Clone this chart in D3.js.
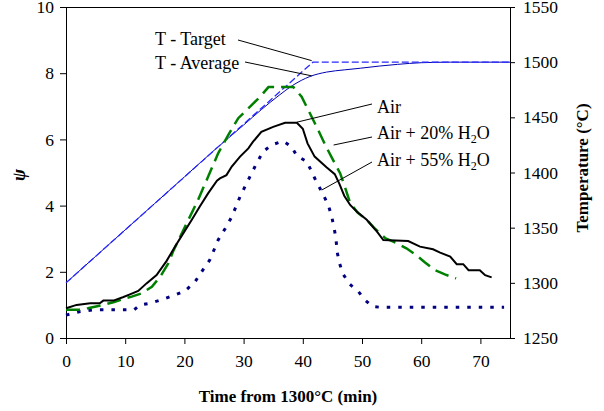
<!DOCTYPE html>
<html>
<head>
<meta charset="utf-8">
<script src="https://cdn.jsdelivr.net/npm/d3@7"></script>
<style>
  body { margin: 0; background: #fff; }
  svg text { font-family: "Liberation Serif", "Times New Roman", serif; }
</style>
</head>
<body>
<svg width="604" height="411"></svg>
<script>
let width = +d3.select("svg").attr("width");
let height = +d3.select("svg").attr("height");

// time (min) and psi values
let airT = [0, 1.8, 4.1, 5.7, 6.3, 8, 9.6, 10.8, 12.2, 13.6, 15.3, 17, 18.4, 19.8, 21.2, 22.6, 24, 25.5, 26, 27.1, 28, 29.4, 30.8, 31.6, 33, 35, 37, 39, 40, 40.8, 42, 44, 45.4, 46.2, 47, 48, 49.1, 50.8, 52.5, 53.6, 57.8, 59.8, 62, 63.2, 64.9, 66, 67.1, 68, 69.9, 70.8, 71.9];
let airPsi = [0.9, 1.0, 1.05, 1.05, 1.13, 1.13, 1.23, 1.32, 1.42, 1.65, 1.9, 2.33, 2.76, 3.16, 3.56, 3.97, 4.37, 4.75, 4.82, 4.92, 5.18, 5.48, 5.73, 5.93, 6.23, 6.38, 6.5, 6.5, 6.32, 5.88, 5.48, 5.16, 4.95, 4.65, 4.3, 4.02, 3.82, 3.57, 3.22, 2.96, 2.93, 2.76, 2.68, 2.58, 2.46, 2.23, 2.23, 2.05, 2.05, 1.9, 1.83];

let h20T = [0, 2, 3.7, 6.3, 8, 9.7, 11.1, 12.8, 14.5, 15.9, 17.3, 18.1, 20.4, 22.3, 24, 25.7, 27.4, 29.1, 31.1, 32.8, 34.2, 38.4, 39.8, 41.2, 42.6, 43.8, 45.1, 46.3, 47.1, 48, 49.3, 50.8, 52.2, 53.9, 55.9, 57.5, 59.2, 60.6, 62.3, 64, 65.9];
let h20Psi = [0.85, 0.85, 0.9, 1.0, 1.08, 1.18, 1.25, 1.35, 1.55, 1.85, 2.26, 2.62, 3.47, 4.17, 4.87, 5.58, 6.13, 6.64, 6.99, 7.29, 7.58, 7.58, 7.29, 6.79, 6.28, 5.83, 5.38, 4.98, 4.57, 4.08, 3.78, 3.57, 3.3, 3.02, 2.86, 2.71, 2.5, 2.29, 2.05, 1.92, 1.8];

let h55T = [0, 2.4, 4.6, 8, 11.5, 12.5, 14.2, 16.4, 18.4, 20.1, 21.8, 22.9, 24.3, 25.7, 26.9, 28, 29.4, 30.5, 32.2, 33.3, 34.7, 36.7, 38.1, 39, 40.7, 41.5, 42.3, 43.2, 44.3, 44.9, 45.3, 45.6, 45.8, 46.2, 46.8, 47.9, 49.4, 50.5, 51.8, 53, 74];
let h55Psi = [0.69, 0.8, 0.85, 0.85, 0.85, 1.0, 1.05, 1.17, 1.3, 1.42, 1.7, 2.0, 2.36, 2.96, 3.31, 3.66, 4.27, 4.67, 5.28, 5.63, 5.83, 5.95, 5.78, 5.5, 5.33, 5.02, 4.72, 4.42, 4.02, 3.66, 3.31, 3.01, 2.6, 2.26, 1.93, 1.63, 1.4, 1.15, 0.95, 0.93, 0.93];

// temperature curves (right axis)
let targetT = [0, 41.7, 75];
let targetTemp = [1300, 1500, 1500];
let avgT = [0, 5, 10, 15, 20, 25, 30, 33, 36, 38.3, 41.2, 44, 47, 49.7, 53, 56, 60, 65, 75];
let avgTemp = [1300, 1324, 1348, 1372, 1396, 1420, 1443, 1457, 1470, 1479, 1487, 1491, 1493, 1494.5, 1496.5, 1498, 1499.5, 1500, 1500];

let xTicks = [0, 10, 20, 30, 40, 50, 60, 70];
let psiTicks = [0, 2, 4, 6, 8, 10];
let tempTicks = [1250, 1300, 1350, 1400, 1450, 1500, 1550];

let plotLeft = 66, plotRight = 510, plotTop = 7, plotBottom = 338;

var xScale = d3.scaleLinear().domain([0, 75]).range([plotLeft, plotRight]);
var yPsi = d3.scaleLinear().domain([0, 10]).range([plotBottom, plotTop]);
var yTemp = d3.scaleLinear().domain([1250, 1550]).range([plotBottom, plotTop]);

let svg = d3.select("svg");
svg.append("rect").attr("width", width).attr("height", height).attr("fill", "#fff");

// top border of plot area
svg.append("line")
  .attr("x1", plotLeft).attr("x2", plotRight)
  .attr("y1", plotTop + 0.5).attr("y2", plotTop + 0.5)
  .attr("stroke", "#000")
  .attr("stroke-width", 1);

function styleAxis(g) {
  g.attr("font-family", null).attr("font-size", null);
  g.selectAll("text")
    .style("font-family", '"Liberation Serif", "Times New Roman", serif')
    .style("font-size", "17.5px")
    .attr("fill", "#000");
  g.selectAll("line,path").attr("stroke", "#000");
}

svg.append("g")
  .attr("transform", "translate(" + plotLeft + ",0)")
  .call(d3.axisLeft(yPsi).tickValues(psiTicks).tickFormat(d3.format("d"))
    .tickSize(6).tickSizeOuter(0).tickPadding(6))
  .call(styleAxis);

svg.append("g")
  .attr("transform", "translate(" + plotRight + ",0)")
  .call(d3.axisRight(yTemp).tickValues(tempTicks).tickFormat(d3.format("d"))
    .tickSize(5).tickSizeOuter(0).tickPadding(8))
  .call(styleAxis);

svg.append("g")
  .attr("transform", "translate(0," + plotBottom + ")")
  .call(d3.axisBottom(xScale).tickValues(xTicks).tickFormat(d3.format("d"))
    .tickSize(6).tickSizeOuter(0).tickPadding(11))
  .call(styleAxis);

// axis titles
svg.append("text")
  .attr("x", (plotLeft + plotRight) / 2)
  .attr("y", 402)
  .attr("text-anchor", "middle")
  .style("font-size", "17px")
  .style("font-weight", "bold")
  .text("Time from 1300°C (min)");

svg.append("text")
  .attr("transform", "translate(588,168) rotate(-90)")
  .attr("text-anchor", "middle")
  .style("font-size", "17px")
  .style("font-weight", "bold")
  .text("Temperature (°C)");

svg.append("text")
  .attr("transform", "translate(25,175) rotate(-90)")
  .attr("text-anchor", "middle")
  .style("font-size", "18px")
  .style("font-weight", "bold")
  .style("font-style", "italic")
  .text("ψ");

function zip(a, b) {
  return a.map(function(v, i) { return [v, b[i]]; });
}

var psiLine = d3.line()
  .x(function(d) { return xScale(d[0]); })
  .y(function(d) { return yPsi(d[1]); });

var tempLine = d3.line()
  .x(function(d) { return xScale(d[0]); })
  .y(function(d) { return yTemp(d[1]); });

svg.append("path")
  .datum(zip(avgT, avgTemp))
  .attr("d", tempLine.curve(d3.curveMonotoneX))
  .attr("fill", "none")
  .attr("stroke", "#0000b0")
  .attr("stroke-width", 1);

svg.append("path")
  .datum(zip(targetT, targetTemp))
  .attr("d", tempLine.curve(d3.curveLinear))
  .attr("fill", "none")
  .attr("stroke", "#2a2aff")
  .attr("stroke-width", 1.3)
  .attr("stroke-dasharray", "7,3");

svg.append("path")
  .datum(zip(h55T, h55Psi))
  .attr("d", psiLine)
  .attr("fill", "none")
  .attr("stroke", "#000080")
  .attr("stroke-width", 3)
  .attr("stroke-dasharray", "3.5,8");

svg.append("path")
  .datum(zip(h20T, h20Psi))
  .attr("d", psiLine)
  .attr("fill", "none")
  .attr("stroke", "#008000")
  .attr("stroke-width", 2.5)
  .attr("stroke-dasharray", "14,7");

svg.append("path")
  .datum(zip(airT, airPsi))
  .attr("d", psiLine)
  .attr("fill", "none")
  .attr("stroke", "#000")
  .attr("stroke-width", 2);

// labels with leader lines
let labels = [
  { text: "T - Target", x: 155, y: 45, lx: 238, ly: 40, t: 41.5, psi: 8.38 },
  { text: "T - Average", x: 155, y: 69, lx: 245, ly: 62, t: 41.5, psi: 7.92 },
  { text: "Air", x: 377, y: 113, lx: 372, ly: 104, t: 39, psi: 6.52 },
  { text: "Air + 20% H", sub: "2", after: "O", x: 377, y: 139, lx: 372, ly: 137, t: 45.2, psi: 5.83 },
  { text: "Air + 55% H", sub: "2", after: "O", x: 377, y: 166, lx: 372, ly: 162, t: 43.2, psi: 4.47 }
];

labels.forEach(function(l) {
  svg.append("line")
    .attr("x1", l.lx).attr("y1", l.ly)
    .attr("x2", xScale(l.t)).attr("y2", yPsi(l.psi))
    .attr("stroke", "#000")
    .attr("stroke-width", 1);

  let txt = svg.append("text")
    .attr("x", l.x)
    .attr("y", l.y)
    .style("font-size", "18px")
    .text(l.text);
  if (l.sub) {
    txt.append("tspan").attr("dy", 4).style("font-size", "12px").text(l.sub);
    txt.append("tspan").attr("dy", -4).text(l.after);
  }
});
</script>
</body>
</html>
